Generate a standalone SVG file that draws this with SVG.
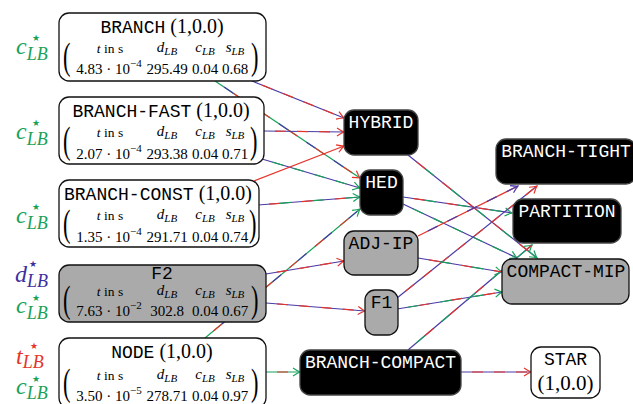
<svg xmlns="http://www.w3.org/2000/svg" width="633" height="404" viewBox="0 0 633 404">
<defs>
<style>
.nw{fill:#fff;stroke:#111;stroke-width:1.3}
.ng{fill:#aaa;stroke:#111;stroke-width:1.3}
.nk{fill:#000;stroke:#444;stroke-width:1.3}
.mono{font-family:"Liberation Mono",monospace;font-size:18px}
.mw{font-family:"Liberation Mono",monospace;font-size:18px;fill:#fff;text-anchor:middle}
.mb{font-family:"Liberation Mono",monospace;font-size:18px;fill:#000;text-anchor:middle}
.ser{font-family:"Liberation Serif",serif}
.par{font-family:"Liberation Serif",serif;font-size:32px}
.hd{font-family:"Liberation Serif",serif;font-size:13.5px;text-anchor:middle}
.num{font-family:"Liberation Serif",serif;font-size:15px;text-anchor:middle}
.lbl{font-family:"Liberation Serif",serif;font-style:italic}
.st{font-family:"DejaVu Sans",sans-serif;font-size:9px}
.e line{stroke-width:1.2;fill:none}
.r{stroke:#e5352b}.b{stroke:#4a3aa6}.g{stroke:#17a25a}
.d2{stroke-dasharray:11 11;stroke-dashoffset:-11}
.d3a{stroke-dasharray:11 22;stroke-dashoffset:-11}
.d3b{stroke-dasharray:11 22;stroke-dashoffset:-22}
</style>
<marker id="ar" viewBox="-9 -5 10 10" refX="0" refY="0" markerWidth="10" markerHeight="10" markerUnits="userSpaceOnUse" orient="auto"><path d="M-7,-4 Q-2.5,-1 0,0 Q-2.5,1 -7,4" fill="none" stroke="#e5352b" stroke-width="1.2"/></marker>
<marker id="ab" viewBox="-9 -5 10 10" refX="0" refY="0" markerWidth="10" markerHeight="10" markerUnits="userSpaceOnUse" orient="auto"><path d="M-7,-4 Q-2.5,-1 0,0 Q-2.5,1 -7,4" fill="none" stroke="#4a3aa6" stroke-width="1.2"/></marker>
<marker id="ag" viewBox="-9 -5 10 10" refX="0" refY="0" markerWidth="10" markerHeight="10" markerUnits="userSpaceOnUse" orient="auto"><path d="M-7,-4 Q-2.5,-1 0,0 Q-2.5,1 -7,4" fill="none" stroke="#17a25a" stroke-width="1.2"/></marker>
</defs>

<g id="connectors" class="e">
<g><line x1="252" y1="81" x2="344" y2="118" class="b" marker-end="url(#ar)"/><line x1="252" y1="81" x2="344" y2="118" class="r d2"/></g>
<g><line x1="215" y1="81" x2="360" y2="178" class="g" marker-end="url(#ar)"/><line x1="215" y1="81" x2="360" y2="178" class="b d3a"/><line x1="215" y1="81" x2="360" y2="178" class="r d3b"/></g>
<g><line x1="264" y1="131" x2="344" y2="132" class="b" marker-end="url(#ar)"/><line x1="264" y1="131" x2="344" y2="132" class="r d2"/></g>
<g><line x1="262" y1="159" x2="360" y2="188" class="b" marker-end="url(#ag)"/><line x1="262" y1="159" x2="360" y2="188" class="g d2"/></g>
<g><line x1="254" y1="181" x2="344" y2="146" class="r" marker-end="url(#ar)"/></g>
<g><line x1="258" y1="205" x2="360" y2="197" class="b" marker-end="url(#ag)"/><line x1="258" y1="205" x2="360" y2="197" class="r d3a"/><line x1="258" y1="205" x2="360" y2="197" class="g d3b"/></g>
<g><line x1="205" y1="338" x2="360" y2="209" class="g" marker-end="url(#ag)"/><line x1="205" y1="338" x2="360" y2="209" class="r d3a"/><line x1="205" y1="338" x2="360" y2="209" class="b d3b"/></g>
<g><line x1="266" y1="274" x2="344" y2="261" class="b" marker-end="url(#ar)"/><line x1="266" y1="274" x2="344" y2="261" class="r d2"/></g>
<g><line x1="266" y1="303" x2="365" y2="311" class="b" marker-end="url(#ar)"/><line x1="266" y1="303" x2="365" y2="311" class="r d2"/></g>
<g><line x1="266" y1="372" x2="300" y2="372" class="g" marker-end="url(#ag)"/><line x1="266" y1="372" x2="300" y2="372" class="r d2"/></g>
<g><line x1="461" y1="372" x2="531" y2="372" class="b" marker-end="url(#ar)"/><line x1="461" y1="372" x2="531" y2="372" class="r d2"/></g>
<g><line x1="408" y1="155" x2="537" y2="258" class="b" marker-end="url(#ag)"/><line x1="408" y1="155" x2="537" y2="258" class="r d3a"/><line x1="408" y1="155" x2="537" y2="258" class="g d3b"/></g>
<g><line x1="403" y1="197" x2="512" y2="213" class="b" marker-end="url(#ag)"/><line x1="403" y1="197" x2="512" y2="213" class="r d3a"/><line x1="403" y1="197" x2="512" y2="213" class="g d3b"/></g>
<g><line x1="403" y1="204" x2="517" y2="258" class="b" marker-end="url(#ag)"/><line x1="403" y1="204" x2="517" y2="258" class="g d2"/></g>
<g><line x1="418" y1="236" x2="518" y2="186" class="r" marker-end="url(#ab)"/><line x1="418" y1="236" x2="518" y2="186" class="b d2"/></g>
<g><line x1="397" y1="298" x2="537" y2="186" class="b" marker-end="url(#ar)"/><line x1="397" y1="298" x2="537" y2="186" class="r d2"/></g>
<g><line x1="418" y1="258" x2="502" y2="272" class="b" marker-end="url(#ag)"/><line x1="418" y1="258" x2="502" y2="272" class="r d3a"/><line x1="418" y1="258" x2="502" y2="272" class="g d3b"/></g>
<g><line x1="397" y1="309" x2="502" y2="292" class="b" marker-end="url(#ag)"/><line x1="397" y1="309" x2="502" y2="292" class="g d3a"/><line x1="397" y1="309" x2="502" y2="292" class="r d3b"/></g>
<g><line x1="408" y1="350" x2="532" y2="245" class="b" marker-end="url(#ag)"/><line x1="408" y1="350" x2="532" y2="245" class="g d3a"/><line x1="408" y1="350" x2="532" y2="245" class="r d3b"/></g>
</g>

<g id="branch">
<rect x="59" y="13" width="207" height="68" rx="10" class="nw"/>
<text x="162" y="33" text-anchor="middle"><tspan class="mono">BRANCH</tspan><tspan class="ser" font-size="20"> (1,0.0)</tspan></text>
<text class="par" transform="translate(63,68.5) scale(0.7,1.2)">(</text>
<text class="par" transform="translate(251,68.5) scale(0.7,1.2)">)</text>
<text x="110" y="53" class="hd"><tspan font-style="italic">t</tspan> in s</text>
<text x="167" y="52" class="hd"><tspan font-style="italic" font-size="15">d</tspan><tspan font-style="italic" font-size="11" dy="3">LB</tspan></text>
<text x="205" y="52" class="hd"><tspan font-style="italic" font-size="15">c</tspan><tspan font-style="italic" font-size="11" dy="3">LB</tspan></text>
<text x="235" y="52" class="hd"><tspan font-style="italic" font-size="15">s</tspan><tspan font-style="italic" font-size="11" dy="3">LB</tspan></text>
<text x="109" y="74" class="num">4.83 · 10<tspan font-size="11" dy="-7">−4</tspan></text>
<text x="167" y="74" class="num">295.49</text>
<text x="205" y="74" class="num">0.04</text>
<text x="235" y="74" class="num">0.68</text>
<text x="16" y="54" class="lbl" fill="#17a25a"><tspan font-size="24">c</tspan><tspan font-size="18" dy="6">LB</tspan></text>
<text x="32" y="41" class="st" fill="#17a25a">★</text>
</g>

<g id="branch-fast">
<rect x="59" y="97" width="205" height="67" rx="10" class="nw"/>
<text x="161" y="117" text-anchor="middle"><tspan class="mono">BRANCH-FAST</tspan><tspan class="ser" font-size="20"> (1,0.0)</tspan></text>
<text class="par" transform="translate(63,152.5) scale(0.7,1.2)">(</text>
<text class="par" transform="translate(250,152.5) scale(0.7,1.2)">)</text>
<text x="110" y="137" class="hd"><tspan font-style="italic">t</tspan> in s</text>
<text x="167" y="136" class="hd"><tspan font-style="italic" font-size="15">d</tspan><tspan font-style="italic" font-size="11" dy="3">LB</tspan></text>
<text x="205" y="136" class="hd"><tspan font-style="italic" font-size="15">c</tspan><tspan font-style="italic" font-size="11" dy="3">LB</tspan></text>
<text x="235" y="136" class="hd"><tspan font-style="italic" font-size="15">s</tspan><tspan font-style="italic" font-size="11" dy="3">LB</tspan></text>
<text x="109" y="159" class="num">2.07 · 10<tspan font-size="11" dy="-7">−4</tspan></text>
<text x="167" y="159" class="num">293.38</text>
<text x="205" y="159" class="num">0.04</text>
<text x="235" y="159" class="num">0.71</text>
<text x="16" y="139" class="lbl" fill="#17a25a"><tspan font-size="24">c</tspan><tspan font-size="18" dy="6">LB</tspan></text>
<text x="32" y="126" class="st" fill="#17a25a">★</text>
</g>

<g id="branch-const">
<rect x="59" y="180" width="200" height="67" rx="10" class="nw"/>
<text x="158" y="200" text-anchor="middle"><tspan class="mono">BRANCH-CONST</tspan><tspan class="ser" font-size="20"> (1,0.0)</tspan></text>
<text class="par" transform="translate(63,235.5) scale(0.7,1.2)">(</text>
<text class="par" transform="translate(249,235.5) scale(0.7,1.2)">)</text>
<text x="110" y="220" class="hd"><tspan font-style="italic">t</tspan> in s</text>
<text x="167" y="219" class="hd"><tspan font-style="italic" font-size="15">d</tspan><tspan font-style="italic" font-size="11" dy="3">LB</tspan></text>
<text x="205" y="219" class="hd"><tspan font-style="italic" font-size="15">c</tspan><tspan font-style="italic" font-size="11" dy="3">LB</tspan></text>
<text x="235" y="219" class="hd"><tspan font-style="italic" font-size="15">s</tspan><tspan font-style="italic" font-size="11" dy="3">LB</tspan></text>
<text x="109" y="242" class="num">1.35 · 10<tspan font-size="11" dy="-7">−4</tspan></text>
<text x="167" y="242" class="num">291.71</text>
<text x="205" y="242" class="num">0.04</text>
<text x="235" y="242" class="num">0.74</text>
<text x="16" y="223" class="lbl" fill="#17a25a"><tspan font-size="24">c</tspan><tspan font-size="18" dy="6">LB</tspan></text>
<text x="32" y="210" class="st" fill="#17a25a">★</text>
</g>

<g id="f2">
<rect x="59" y="265" width="207" height="57" rx="10" class="ng"/>
<text x="162" y="279" class="mb" font-size="17">F2</text>
<text class="par" transform="translate(63,312) scale(0.7,1.2)">(</text>
<text class="par" transform="translate(251,312) scale(0.7,1.2)">)</text>
<text x="110" y="296" class="hd"><tspan font-style="italic">t</tspan> in s</text>
<text x="167" y="295" class="hd"><tspan font-style="italic" font-size="15">d</tspan><tspan font-style="italic" font-size="11" dy="3">LB</tspan></text>
<text x="205" y="295" class="hd"><tspan font-style="italic" font-size="15">c</tspan><tspan font-style="italic" font-size="11" dy="3">LB</tspan></text>
<text x="235" y="295" class="hd"><tspan font-style="italic" font-size="15">s</tspan><tspan font-style="italic" font-size="11" dy="3">LB</tspan></text>
<text x="109" y="316" class="num">7.63 · 10<tspan font-size="11" dy="-7">−2</tspan></text>
<text x="167" y="316" class="num">302.8</text>
<text x="205" y="316" class="num">0.04</text>
<text x="235" y="316" class="num">0.67</text>
<text x="15" y="282" class="lbl" fill="#3c2fa0"><tspan font-size="24">d</tspan><tspan font-size="18" dy="5">LB</tspan></text>
<text x="29" y="267" class="st" fill="#3c2fa0">★</text>
<text x="16" y="313" class="lbl" fill="#17a25a"><tspan font-size="24">c</tspan><tspan font-size="18" dy="6">LB</tspan></text>
<text x="32" y="301" class="st" fill="#17a25a">★</text>
</g>

<g id="node">
<rect x="59" y="338" width="207" height="70" rx="10" class="nw"/>
<text x="162" y="358" text-anchor="middle"><tspan class="mono">NODE</tspan><tspan class="ser" font-size="20"> (1,0.0)</tspan></text>
<text class="par" transform="translate(63,395) scale(0.7,1.2)">(</text>
<text class="par" transform="translate(251,395) scale(0.7,1.2)">)</text>
<text x="110" y="380" class="hd"><tspan font-style="italic">t</tspan> in s</text>
<text x="167" y="379" class="hd"><tspan font-style="italic" font-size="15">d</tspan><tspan font-style="italic" font-size="11" dy="3">LB</tspan></text>
<text x="205" y="379" class="hd"><tspan font-style="italic" font-size="15">c</tspan><tspan font-style="italic" font-size="11" dy="3">LB</tspan></text>
<text x="235" y="379" class="hd"><tspan font-style="italic" font-size="15">s</tspan><tspan font-style="italic" font-size="11" dy="3">LB</tspan></text>
<text x="109" y="401" class="num">3.50 · 10<tspan font-size="11" dy="-7">−5</tspan></text>
<text x="167" y="401" class="num">278.71</text>
<text x="205" y="401" class="num">0.04</text>
<text x="235" y="401" class="num">0.97</text>
<text x="16" y="364" class="lbl" fill="#e5352b"><tspan font-size="24">t</tspan><tspan font-size="18" dy="4">LB</tspan></text>
<text x="30" y="349" class="st" fill="#e5352b">★</text>
<text x="16" y="394" class="lbl" fill="#17a25a"><tspan font-size="24">c</tspan><tspan font-size="18" dy="5">LB</tspan></text>
<text x="32" y="382" class="st" fill="#17a25a">★</text>
</g>

<g id="hybrid"><rect x="344" y="110" width="74" height="45" rx="10" class="nk"/><text x="381" y="128" class="mw">HYBRID</text></g>
<g id="hed"><rect x="360" y="170" width="43" height="45" rx="10" class="nk"/><text x="381.5" y="188" class="mw">HED</text></g>
<g id="adj-ip"><rect x="344" y="231" width="74" height="44" rx="10" class="ng"/><text x="381" y="249" class="mb">ADJ-IP</text></g>
<g id="f1"><rect x="365" y="290" width="33" height="45" rx="10" class="ng"/><text x="381.5" y="308" class="mb">F1</text></g>
<g id="branch-compact"><rect x="300" y="350" width="161" height="45" rx="10" class="nk"/><text x="380.5" y="368" class="mw">BRANCH-COMPACT</text></g>
<g id="star"><rect x="531" y="347" width="69" height="51" rx="10" class="nw"/><text x="565.5" y="365" class="mb">STAR</text><text x="565.5" y="390" class="ser" font-size="21" text-anchor="middle">(1,0.0)</text></g>
<g id="branch-tight"><rect x="496" y="139" width="140" height="45" rx="10" class="nk"/><text x="566" y="157" class="mw">BRANCH-TIGHT</text></g>
<g id="partition"><rect x="513" y="199" width="108" height="44" rx="10" class="nk"/><text x="567" y="217" class="mw">PARTITION</text></g>
<g id="compact-mip"><rect x="502" y="259" width="127" height="45" rx="10" class="ng"/><text x="566" y="277" class="mb">COMPACT-MIP</text></g>
</svg>
